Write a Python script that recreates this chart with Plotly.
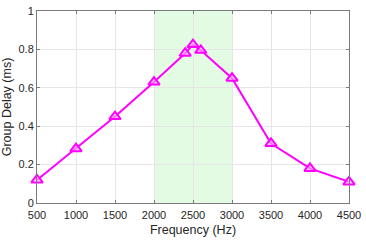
import plotly.graph_objects as go

freq = [500, 1000, 1500, 2000, 2400, 2500, 2600, 3000, 3500, 4000, 4500]
delay = [0.12, 0.283, 0.45, 0.63, 0.78, 0.825, 0.795, 0.65, 0.31, 0.18, 0.11]
band = [2000, 3000]
xticks = [500, 1000, 1500, 2000, 2500, 3000, 3500, 4000, 4500]
yticks = [0, 0.2, 0.4, 0.6, 0.8, 1]

fnt = "Liberation Sans, Arial"
fig = go.Figure()
fig.add_vrect(x0=band[0], x1=band[1], fillcolor="#e3fbe3", line_width=0, layer="below", opacity=1)
fig.add_trace(go.Scatter(
    x=freq, y=delay, mode="lines+markers",
    line=dict(color="#ff00ff", width=2),
    marker=dict(symbol="triangle-up", size=10, color="rgba(255,190,255,0.6)",
                line=dict(color="#ff00ff", width=2)),
    showlegend=False, cliponaxis=False,
))
axcommon = dict(showgrid=True, gridcolor="#e6e6e6", gridwidth=1, showline=True,
                linecolor="#7a7a7a", linewidth=1, mirror="ticks", ticks="inside",
                ticklen=3, tickcolor="#7a7a7a", zeroline=False, ticklabeloverflow="allow",
                tickfont=dict(family=fnt, size=11, color="#262626"))
fig.update_xaxes(range=[500, 4500], tickvals=xticks, ticktext=[str(v) for v in xticks],
                 ticklabelstandoff=2,
                 title=dict(text="Frequency (Hz)", font=dict(family=fnt, size=12.5, color="#262626"), standoff=5),
                 **axcommon)
fig.update_yaxes(range=[0, 1], tickvals=yticks, ticktext=["0", "0.2", "0.4", "0.6", "0.8", "1"],
                 title=dict(text="Group Delay (ms)", font=dict(family=fnt, size=12.5, color="#262626"), standoff=4),
                 **axcommon)
fig.update_layout(width=366, height=240, margin=dict(l=37, r=13, t=5, b=37),
                  plot_bgcolor="white", paper_bgcolor="white")
fig.write_html("out.html")
